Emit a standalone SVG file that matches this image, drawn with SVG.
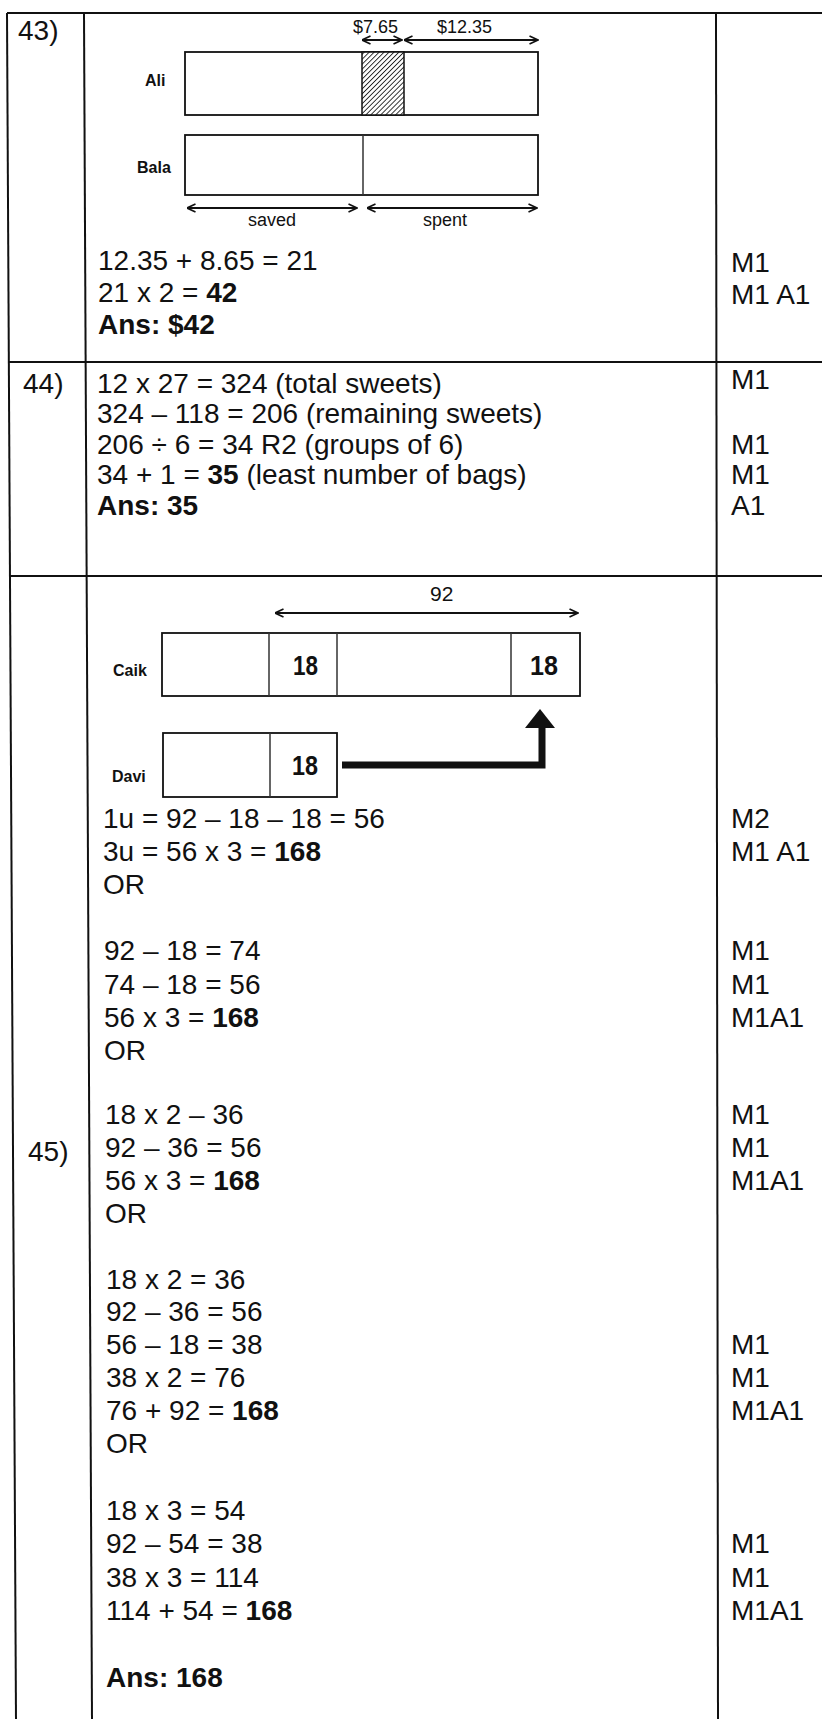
<svg xmlns="http://www.w3.org/2000/svg" width="822" height="1719" viewBox="0 0 822 1719">
<defs>
<style>
.t{font-family:"Liberation Sans",Arial,sans-serif;font-size:28px;fill:#111}
.b{font-weight:bold}
.lab{font-family:"Liberation Sans",Arial,sans-serif;font-size:16px;font-weight:bold;fill:#111}
.dim{font-family:"Liberation Sans",Arial,sans-serif;font-size:18px;fill:#111}
.num{font-family:"Liberation Sans",Arial,sans-serif;font-size:27px;font-weight:bold;fill:#111}
.grid{stroke:#111;stroke-width:2;fill:none}
.box{stroke:#111;stroke-width:1.8;fill:#fff}
.div{stroke:#333;stroke-width:1.5}
.arr{stroke:#111;stroke-width:2;fill:none;marker-start:url(#ah);marker-end:url(#ah)}
</style>
<marker id="ah" viewBox="0 0 10 10" refX="9.5" refY="5" markerWidth="10" markerHeight="10" markerUnits="userSpaceOnUse" orient="auto-start-reverse">
<path d="M1,1 L9.5,5 L1,9" fill="none" stroke="#111" stroke-width="1.6"/>
</marker>
<pattern id="hatch" width="3.5" height="3.5" patternUnits="userSpaceOnUse" patternTransform="rotate(45)">
<rect width="3.5" height="3.5" fill="#fff"/>
<line x1="0" y1="0" x2="0" y2="3.5" stroke="#222" stroke-width="1.8"/>
</pattern>
</defs>
<rect width="822" height="1719" fill="#fff"/>

<g id="table-lines">
<line class="grid" x1="7" y1="13" x2="822" y2="13"/>
<line class="grid" x1="7" y1="13" x2="16" y2="1719"/>
<line class="grid" x1="84" y1="13" x2="92" y2="1719"/>
<line class="grid" x1="716" y1="13" x2="718" y2="1719"/>
<line class="grid" x1="9" y1="362" x2="822" y2="362"/>
<line class="grid" x1="10" y1="576" x2="822" y2="576"/>
</g>

<g id="q43">
<text class="t" x="18" y="40">43)</text>
<g id="ali-bar">
<rect class="box" x="185" y="52" width="353" height="63"/>
<rect x="362" y="52" width="42" height="63" fill="url(#hatch)" stroke="#111" stroke-width="1.5"/>
<text class="lab" x="145" y="86">Ali</text>
</g>
<g id="bala-bar">
<rect class="box" x="185" y="135" width="353" height="60"/>
<line class="div" x1="363" y1="135" x2="363" y2="195"/>
<text class="lab" x="137" y="173">Bala</text>
</g>
<text class="dim" x="353" y="33">$7.65</text>
<text class="dim" x="437" y="33">$12.35</text>
<text class="dim" x="248" y="226">saved</text>
<text class="dim" x="423" y="226">spent</text>
<text class="t" x="98" y="270">12.35 + 8.65 = 21</text>
<text class="t" x="98" y="302">21 x 2 = <tspan class="b">42</tspan></text>
<text class="t b" x="98" y="334">Ans: $42</text>
<text class="t" x="731" y="272">M1</text>
<text class="t" x="731" y="304">M1 A1</text>
</g>

<g id="q44">
<text class="t" x="23" y="393">44)</text>
<text class="t" x="97" y="393">12 x 27 = 324 (total sweets)</text>
<text class="t" x="97" y="423">324 – 118 = 206 (remaining sweets)</text>
<text class="t" x="97" y="454">206 ÷ 6 = 34 R2 (groups of 6)</text>
<text class="t" x="97" y="484">34 + 1 = <tspan class="b">35</tspan> (least number of bags)</text>
<text class="t b" x="97" y="515">Ans: 35</text>
<text class="t" x="731" y="389">M1</text>
<text class="t" x="731" y="454">M1</text>
<text class="t" x="731" y="484">M1</text>
<text class="t" x="731" y="515">A1</text>
</g>

<g id="q45">
<text class="t" x="28" y="1161">45)</text>
<g id="caili-bar">
<rect class="box" x="162" y="633" width="418" height="63"/>
<line class="div" x1="269" y1="633" x2="269" y2="696"/>
<line class="div" x1="337" y1="633" x2="337" y2="696"/>
<line class="div" x1="511" y1="633" x2="511" y2="696"/>
<text class="lab" x="113" y="676">Caik</text>
<text class="num" x="293" y="675" textLength="25" lengthAdjust="spacingAndGlyphs">18</text>
<text class="num" x="530" y="675" textLength="28" lengthAdjust="spacingAndGlyphs">18</text>
</g>
<g id="davi-bar">
<rect class="box" x="163" y="733" width="174" height="64"/>
<line class="div" x1="270" y1="733" x2="270" y2="797"/>
<text class="lab" x="112" y="782">Davi</text>
<text class="num" x="292" y="775" textLength="26" lengthAdjust="spacingAndGlyphs">18</text>
</g>
<text class="dim" x="430" y="601" style="font-size:21px">92</text>

<text class="t" x="103" y="828">1u = 92 – 18 – 18 = 56</text>
<text class="t" x="103" y="861">3u = 56 x 3 = <tspan class="b">168</tspan></text>
<text class="t" x="103" y="894">OR</text>

<text class="t" x="104" y="960">92 – 18 = 74</text>
<text class="t" x="104" y="994">74 – 18 = 56</text>
<text class="t" x="104" y="1027">56 x 3 = <tspan class="b">168</tspan></text>
<text class="t" x="104" y="1060">OR</text>

<text class="t" x="105" y="1124">18 x 2 – 36</text>
<text class="t" x="105" y="1157">92 – 36 = 56</text>
<text class="t" x="105" y="1190">56 x 3 = <tspan class="b">168</tspan></text>
<text class="t" x="105" y="1223">OR</text>

<text class="t" x="106" y="1289">18 x 2 = 36</text>
<text class="t" x="106" y="1321">92 – 36 = 56</text>
<text class="t" x="106" y="1354">56 – 18 = 38</text>
<text class="t" x="106" y="1387">38 x 2 = 76</text>
<text class="t" x="106" y="1420">76 + 92 = <tspan class="b">168</tspan></text>
<text class="t" x="106" y="1453">OR</text>

<text class="t" x="106" y="1520">18 x 3 = 54</text>
<text class="t" x="106" y="1553">92 – 54 = 38</text>
<text class="t" x="106" y="1587">38 x 3 = 114</text>
<text class="t" x="106" y="1620">114 + 54 = <tspan class="b">168</tspan></text>

<text class="t b" x="106" y="1687">Ans: 168</text>

<text class="t" x="731" y="828">M2</text>
<text class="t" x="731" y="861">M1 A1</text>
<text class="t" x="731" y="960">M1</text>
<text class="t" x="731" y="994">M1</text>
<text class="t" x="731" y="1027">M1A1</text>
<text class="t" x="731" y="1124">M1</text>
<text class="t" x="731" y="1157">M1</text>
<text class="t" x="731" y="1190">M1A1</text>
<text class="t" x="731" y="1354">M1</text>
<text class="t" x="731" y="1387">M1</text>
<text class="t" x="731" y="1420">M1A1</text>
<text class="t" x="731" y="1553">M1</text>
<text class="t" x="731" y="1587">M1</text>
<text class="t" x="731" y="1620">M1A1</text>
</g>

<g id="connectors">
<line class="arr" x1="362" y1="40" x2="402" y2="40"/>
<line class="arr" x1="404" y1="40" x2="538" y2="40"/>
<line class="arr" x1="187" y1="208" x2="357" y2="208"/>
<line class="arr" x1="367" y1="208" x2="537" y2="208"/>
<line class="arr" x1="275" y1="613" x2="578" y2="613"/>
<path d="M342,765 H542 V726" fill="none" stroke="#111" stroke-width="7"/>
<polygon points="525,728 540,709 555,728" fill="#111"/>
</g>
</svg>
